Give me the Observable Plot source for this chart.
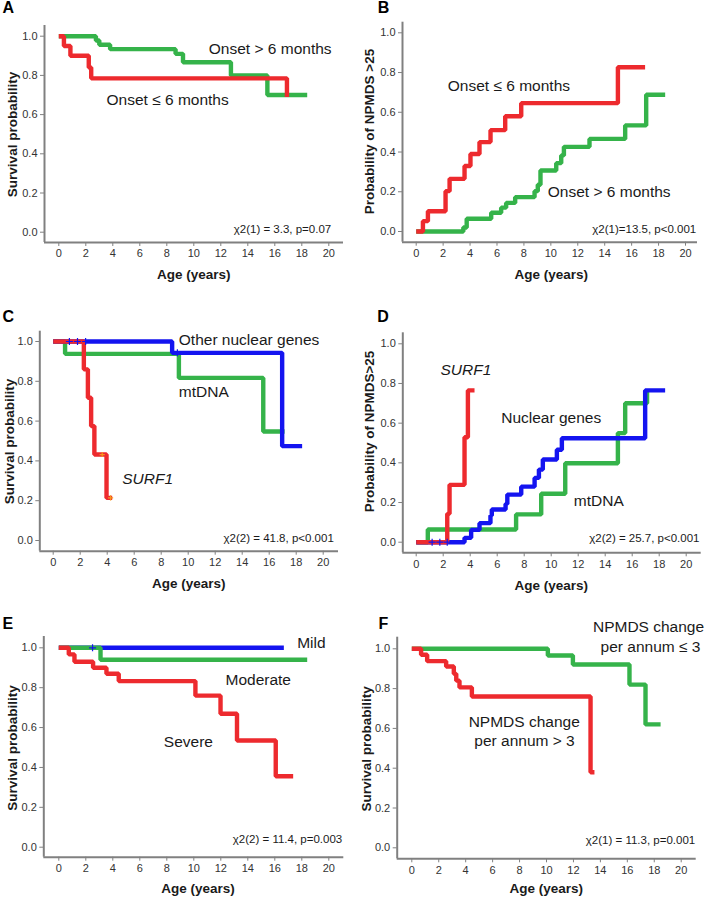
<!DOCTYPE html>
<html><head><meta charset="utf-8">
<script src="https://cdn.jsdelivr.net/npm/d3@7"></script>
<script src="https://cdn.jsdelivr.net/npm/@observablehq/plot@0.6"></script>
<style>
body{margin:0;background:#fff;}
#wrap{position:relative;width:709px;height:898px;overflow:hidden;background:#fff;}
.panel{position:absolute;}
</style></head><body><div id="wrap"></div>
<script>
// ---------- tick labels ----------
const xTicks = [0, 2, 4, 6, 8, 10, 12, 14, 16, 18, 20];
const yTicks = [0, 0.2, 0.4, 0.6, 0.8, 1.0];

// ---------- Panel A: survival by onset ----------
const aLateT = [0, 2.75, 3.0, 3.8, 8.65, 9.2, 12.75, 15.45, 18.4];
const aLateS = [1, 0.978, 0.956, 0.934, 0.91, 0.867, 0.80, 0.70, 0.70];
const aEarlyT = [0, 0.38, 0.86, 2.22, 2.4, 16.9];
const aEarlyS = [1, 0.95, 0.90, 0.84, 0.785, 0.69];

// ---------- Panel B: NPMDS>25 by onset ----------
const bEarlyT = [0, 0.5, 0.87, 2.18, 2.48, 3.59, 4.03, 4.7, 5.52, 6.61, 7.8, 14.98, 17.0];
const bEarlyS = [0, 0.052, 0.102, 0.203, 0.265, 0.33, 0.39, 0.45, 0.51, 0.58, 0.646, 0.827, 0.827];
const bLateT = [0, 3.5, 3.75, 5.57, 6.31, 6.68, 7.35, 8.79, 9.03, 9.23, 10.4, 10.77, 10.97, 12.87, 15.52, 17.08, 18.49];
const bLateS = [0, 0.02, 0.064, 0.094, 0.12, 0.144, 0.173, 0.203, 0.235, 0.307, 0.344, 0.383, 0.426, 0.466, 0.534, 0.688, 0.688];

// ---------- Panel C: survival by genotype ----------
const cNucT = [0, 8.81, 16.96, 18.44];
const cNucS = [1, 0.943, 0.474, 0.474];
const cMtT = [0, 0.88, 9.31, 15.56, 17.14];
const cMtS = [1, 0.938, 0.817, 0.548, 0.548];
const cSurfT = [0, 2.27, 2.57, 2.81, 3.05, 3.95, 4.37];
const cSurfS = [1, 0.86, 0.717, 0.575, 0.432, 0.214, 0.214];
const cNucCensT = [1.2, 1.8, 2.4, 9.2];
const cNucCensS = [1, 1, 1, 0.943];
const cSurfCensT = [3.63, 4.25];
const cSurfCensS = [0.432, 0.214];

// ---------- Panel D: NPMDS>25 by genotype ----------
const dSurfT = [0, 2.3, 2.47, 3.58, 3.83, 4.32];
const dSurfS = [0, 0.143, 0.289, 0.529, 0.765, 0.765];
const dNucT = [0, 3.58, 4.07, 4.69, 5.5, 5.6, 6.62, 6.75, 7.78, 8.77, 9.09, 9.38, 10.42, 10.79, 16.96, 18.44];
const dNucS = [0, 0.022, 0.062, 0.096, 0.134, 0.165, 0.193, 0.24, 0.28, 0.324, 0.366, 0.417, 0.466, 0.524, 0.765, 0.765];
const dMtT = [0, 0.86, 7.4, 9.26, 11.04, 14.94, 15.48, 17.1];
const dMtS = [0, 0.064, 0.14, 0.244, 0.398, 0.55, 0.70, 0.765];
const dNucCensT = [1.18, 1.75, 2.3];
const dNucCensS = [0, 0, 0];

// ---------- Panel E: survival by severity ----------
const eMildT = [0, 16.67];
const eMildS = [1, 1];
const eModT = [0, 3.09, 18.4];
const eModS = [1, 0.94, 0.94];
const eSevT = [0, 0.74, 1.16, 2.54, 3.53, 4.44, 10.12, 11.98, 13.2, 16.07, 17.36];
const eSevS = [1, 0.967, 0.93, 0.90, 0.87, 0.833, 0.76, 0.669, 0.535, 0.356, 0.356];
const eMildCensT = [2.5];
const eMildCensS = [1];

// ---------- Panel F: survival by NPMDS progression ----------
const fSlowT = [0, 10.1, 11.96, 16.16, 17.35, 18.47];
const fSlowS = [1, 0.966, 0.921, 0.82, 0.62, 0.62];
const fFastT = [0, 0.69, 1.14, 2.55, 3.12, 3.3, 3.54, 4.46, 13.27, 13.56];
const fFastS = [1, 0.97, 0.938, 0.911, 0.874, 0.84, 0.806, 0.76, 0.38, 0.38];

const RED = "#ED2A2E", GREEN = "#35B34A", BLUE = "#1414F0", ORANGE = "#F7941D";
const AXIS = "#808080", FONT = "Liberation Sans, Arial, Helvetica, sans-serif";

const pts = (t, s) => t.map((x, i) => ({x, y: s[i]}));

function panel(f, curves, cens, notes) {
  const kx = (f.x20 - f.x0) / 20, ky = f.y0 - f.y1;
  const xmin = (f.axL - f.x0) / kx, xmax = (f.xRight - f.x0) / kx;
  const ymin = (f.y0 - f.axB) / ky, ymax = (f.y0 - f.yTop) / ky;
  const px = X => (X - f.x0) / kx, py = Y => (f.y0 - Y) / ky;
  const marks = [
    Plot.axisX(xTicks, {tickSize: 4, tickPadding: 3, fontSize: 11, stroke: AXIS, fill: "#333", label: null, tickFormat: d => String(d)}),
    Plot.axisY(yTicks, {tickSize: 4, tickPadding: 3, fontSize: 11, stroke: AXIS, fill: "#333", label: null, tickFormat: d3.format(".1f")}),
    Plot.ruleX([xmin], {stroke: AXIS, strokeWidth: 2}),
    Plot.ruleY([ymin], {stroke: AXIS, strokeWidth: 2, x1: xmin, x2: xmax})
  ];
  for (const c of curves) {
    marks.push(Plot.line(pts(c.t, c.s), {x: "x", y: "y", stroke: c.color, strokeWidth: 4.4, curve: "step-after", strokeLinejoin: "miter", strokeLinecap: "butt"}));
  }
  for (const c of cens) {
    marks.push(Plot.dot(pts(c.t, c.s), {x: "x", y: "y", symbol: "plus", r: c.r || 2.4, stroke: c.color, strokeWidth: 1.2}));
  }
  for (const n of notes) {
    marks.push(Plot.text([n], {
      x: () => px(n.X), y: () => py(n.Y), text: () => n.text,
      textAnchor: n.anchor || "start", fontSize: n.size || 15.5,
      fontWeight: n.weight || "normal", fontStyle: n.style || "normal",
      rotate: n.rotate || 0, fill: n.fill || "#1a1a1a"
    }));
  }
  const svg = Plot.plot({
    width: f.width, height: f.height,
    marginLeft: f.axL - f.left, marginRight: f.width - (f.xRight - f.left),
    marginTop: f.yTop - f.top, marginBottom: f.height - (f.axB - f.top),
    x: {domain: [xmin, xmax], axis: null},
    y: {domain: [ymin, ymax], axis: null},
    style: {fontFamily: FONT, background: "transparent", overflow: "visible"},
    marks
  });
  const div = document.createElement("div");
  div.className = "panel";
  div.style.left = f.left + "px";
  div.style.top = f.top + "px";
  div.appendChild(svg);
  document.getElementById("wrap").appendChild(div);
}

const YL = (X, Y, text) => ({X, Y, text, anchor: "middle", size: 13.5, weight: "bold", rotate: -90});
const XL = (X, Y) => ({X, Y, text: "Age (years)", anchor: "middle", size: 13.5, weight: "bold"});
const LT = (X, Y, text) => ({X, Y, text, anchor: "start", size: 16, weight: "bold", fill: "#000"});
const CHI = (X, Y, text) => ({X, Y, text, anchor: "end", size: 11.5});

// A
panel({left: 0, top: 0, width: 354, height: 290, axL: 44, axB: 242, x0: 58.3, x20: 328.3, y1: 35.7, y0: 231.7, yTop: 25, xRight: 343},
  [{t: aLateT, s: aLateS, color: GREEN}, {t: aEarlyT, s: aEarlyS, color: RED}], [],
  [LT(2, 7.5, "A"), YL(11.7, 134, "Survival probability"), XL(193.3, 274),
   {X: 208.3, Y: 48.3, text: "Onset > 6 months"}, {X: 106, Y: 100, text: "Onset ≤ 6 months"},
   CHI(330.7, 229.3, "χ2(1) = 3.3, p=0.07")]);

// B
panel({left: 354, top: 0, width: 355, height: 290, axL: 402, axB: 241.7, x0: 415.7, x20: 685, y1: 32.3, y0: 231, yTop: 21.7, xRight: 697},
  [{t: bLateT, s: bLateS, color: GREEN}, {t: bEarlyT, s: bEarlyS, color: RED}], [],
  [LT(377.3, 7.5, "B"), YL(369, 131, "Probability of NPMDS >25"), XL(550.7, 274),
   {X: 447.3, Y: 86, text: "Onset ≤ 6 months"}, {X: 547.3, Y: 191.7, text: "Onset > 6 months"},
   CHI(695.7, 229.3, "χ2(1)=13.5, p<0.001")]);

// C
panel({left: 0, top: 290, width: 354, height: 300, axL: 39.3, axB: 550.7, x0: 52.7, x20: 322.7, y1: 341, y0: 540, yTop: 330.7, xRight: 338},
  [{t: cMtT, s: cMtS, color: GREEN}, {t: cNucT, s: cNucS, color: BLUE}, {t: cSurfT, s: cSurfS, color: RED}],
  [{t: cNucCensT, s: cNucCensS, color: BLUE}, {t: cSurfCensT, s: cSurfCensS, color: ORANGE, r: 1.8}],
  [LT(2, 316.7, "C"), YL(9, 441, "Survival probability"), XL(188.3, 582.7),
   {X: 178.3, Y: 339.3, text: "Other nuclear genes"}, {X: 178.3, Y: 391.7, text: "mtDNA"},
   {X: 121.7, Y: 478.3, text: "SURF1", style: "italic"},
   CHI(333.3, 538.3, "χ2(2) = 41.8, p<0.001")]);

// D
panel({left: 354, top: 290, width: 355, height: 300, axL: 402.3, axB: 552.3, x0: 415.7, x20: 685.7, y1: 343.3, y0: 541.7, yTop: 332.3, xRight: 700.7},
  [{t: dMtT, s: dMtS, color: GREEN}, {t: dNucT, s: dNucS, color: BLUE}, {t: dSurfT, s: dSurfS, color: RED}],
  [{t: dNucCensT, s: dNucCensS, color: BLUE}],
  [LT(376.7, 316.7, "D"), YL(369, 431, "Probability of NPMDS>25"), XL(550.7, 585),
   {X: 440, Y: 370, text: "SURF1", style: "italic"}, {X: 500.7, Y: 417.7, text: "Nuclear genes"},
   {X: 573.3, Y: 500.7, text: "mtDNA"},
   CHI(699, 538.3, "χ2(2) = 25.7, p<0.001")]);

// E
panel({left: 0, top: 590, width: 354, height: 308, axL: 43.3, axB: 856.7, x0: 58.3, x20: 328.3, y1: 647.3, y0: 846.7, yTop: 636, xRight: 343.3},
  [{t: eMildT, s: eMildS, color: BLUE}, {t: eModT, s: eModS, color: GREEN}, {t: eSevT, s: eSevS, color: RED}],
  [{t: eMildCensT, s: eMildCensS, color: BLUE}],
  [LT(2, 623.3, "E"), YL(11.7, 747.5, "Survival probability"), XL(197.5, 888.3),
   {X: 296.7, Y: 642.7, text: "Mild"}, {X: 225, Y: 679.3, text: "Moderate"},
   {X: 163.3, Y: 741.7, text: "Severe"},
   CHI(341.7, 839.3, "χ2(2) = 11.4, p=0.003")]);

// F
panel({left: 354, top: 590, width: 355, height: 308, axL: 396.7, axB: 858.3, x0: 411.3, x20: 680.7, y1: 648.3, y0: 847.3, yTop: 636.7, xRight: 695.7},
  [{t: fSlowT, s: fSlowS, color: GREEN}, {t: fFastT, s: fFastS, color: RED}], [],
  [LT(378, 623.3, "F"), YL(365.7, 748.3, "Survival probability"), XL(545.7, 888.3),
   {X: 648, Y: 626.7, text: "NPMDS change", anchor: "middle"}, {X: 650, Y: 646.7, text: "per annum ≤ 3", anchor: "middle"},
   {X: 523.7, Y: 721.7, text: "NPMDS change", anchor: "middle"}, {X: 524, Y: 740.7, text: "per annum > 3", anchor: "middle"},
   CHI(694.7, 840, "χ2(1) = 11.3, p=0.001")]);
</script></body></html>
